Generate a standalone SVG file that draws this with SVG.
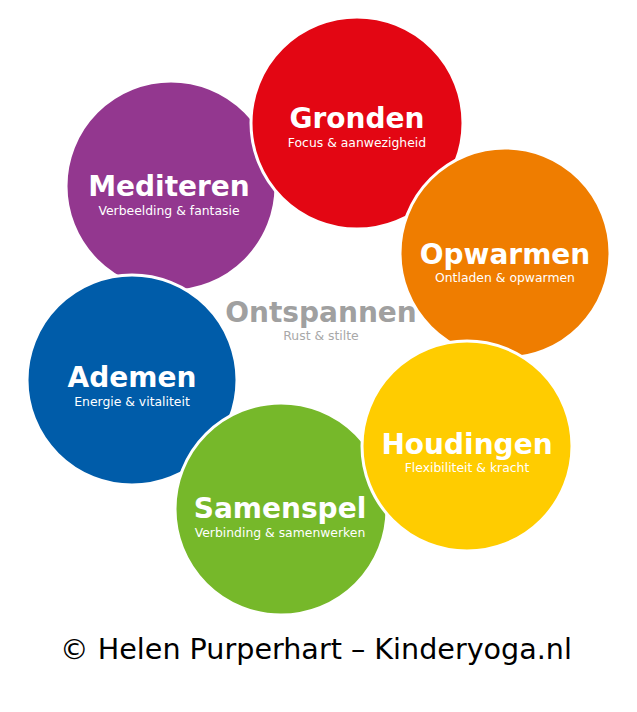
<svg xmlns="http://www.w3.org/2000/svg" width="637" height="712" viewBox="0 0 637 712">
<style>
.c{stroke:#fff;stroke-width:3}
.t{font-family:"DejaVu Sans",Verdana,sans-serif;font-weight:bold;font-size:28px;fill:#fff;text-anchor:middle}
.s{font-family:"DejaVu Sans",Verdana,sans-serif;font-size:12.4px;fill:#fff;text-anchor:middle}
</style>
<rect width="637" height="712" fill="#fff"/>
<g id="mediteren"><circle class="c" cx="171" cy="186" r="105" fill="#93378f"/><text class="t" x="169" y="196">Mediteren</text><text class="s" x="169" y="215">Verbeelding &amp; fantasie</text></g>
<g id="gronden"><circle class="c" cx="357" cy="123" r="106" fill="#e30613"/><text class="t" x="357" y="128">Gronden</text><text class="s" x="357" y="147">Focus &amp; aanwezigheid</text></g>
<g id="opwarmen"><circle class="c" cx="505" cy="253" r="105" fill="#ef7d00"/><text class="t" x="505" y="264">Opwarmen</text><text class="s" x="505" y="282">Ontladen &amp; opwarmen</text></g>
<g id="ademen"><circle class="c" cx="132" cy="380" r="105" fill="#005ca9"/><text class="t" x="132" y="387">Ademen</text><text class="s" x="132" y="406">Energie &amp; vitaliteit</text></g>
<g id="samenspel"><circle class="c" cx="281" cy="509" r="106" fill="#76b82a"/><text class="t" x="280" y="518">Samenspel</text><text class="s" x="280" y="537">Verbinding &amp; samenwerken</text></g>
<g id="houdingen"><circle class="c" cx="467" cy="446" r="105" fill="#ffcc00"/><text class="t" x="467" y="454">Houdingen</text><text class="s" x="467" y="472">Flexibiliteit &amp; kracht</text></g>
<g id="ontspannen"><text class="t" x="321" y="322" style="fill:#a0a0a0">Ontspannen</text><text class="s" x="321" y="340" style="fill:#a8a8a8">Rust &amp; stilte</text></g>
<g id="connectors"/>
<text x="316" y="659" font-family="DejaVu Sans,Verdana,sans-serif" font-size="28.6" fill="#000" text-anchor="middle">© Helen Purperhart – Kinderyoga.nl</text>
</svg>
